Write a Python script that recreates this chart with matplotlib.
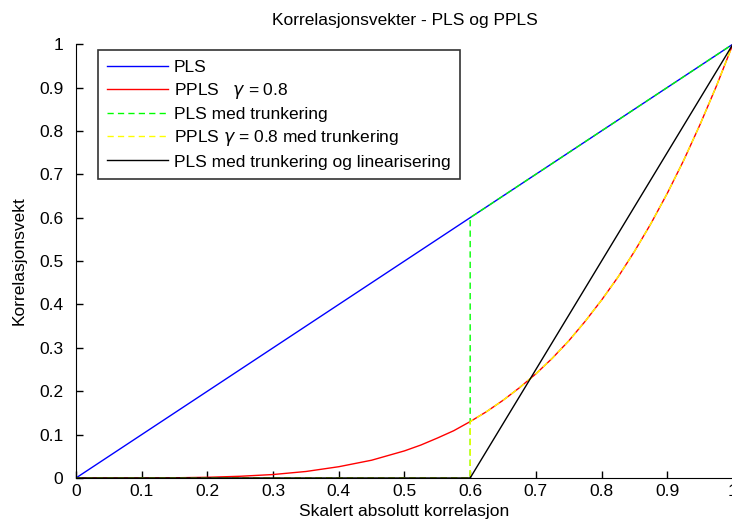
import matplotlib
matplotlib.use("Agg")
import matplotlib.pyplot as plt

plt.rcParams['font.family'] = ['Liberation Sans', 'DejaVu Sans']
plt.rcParams['mathtext.fontset'] = 'dejavusans'

# skalert absolutt korrelasjon (x) og avlest korrelasjonsvekt
x = [0.0, 0.05, 0.1, 0.15, 0.2, 0.25, 0.3, 0.35, 0.4, 0.45, 0.5, 0.525,
     0.55, 0.575, 0.6, 0.625, 0.65, 0.675, 0.7, 0.725, 0.75, 0.775, 0.8,
     0.825, 0.85, 0.875, 0.9, 0.925, 0.95, 0.975, 1.0]
pls = x
ppls = [0.0, 0.0, 0.0001, 0.0005, 0.0016, 0.004, 0.008, 0.015, 0.026, 0.041, 0.0625, 0.076,
        0.092, 0.109, 0.13, 0.153, 0.179, 0.208, 0.24, 0.276, 0.316, 0.361, 0.41,
        0.463, 0.522, 0.586, 0.656, 0.732, 0.815, 0.904, 1.0]

# trunkert ved 0.6
x_trunc = [0.0, 0.6] + x[14:]
pls_trunc = [0.0, 0.0] + pls[14:]
ppls_trunc = [0.0, 0.0] + ppls[14:]

x_lin = [0.0, 0.6, 1.0]
pls_lin = [0.0, 0.0, 1.0]

ticks = [0.0, 0.1, 0.2, 0.3, 0.4, 0.5, 0.6, 0.7, 0.8, 0.9, 1.0]
tick_labels = ['0', '0.1', '0.2', '0.3', '0.4', '0.5', '0.6', '0.7', '0.8', '0.9', '1']

fig = plt.figure(figsize=(7.32, 5.19), dpi=100)
ax = fig.add_axes([0.1038, 0.079, 0.8975, 0.836])

ax.plot(x, pls, color='#0000ff', lw=1.0, label='PLS')
ax.plot(x, ppls, color='#ff0000', lw=1.0, label='PPLS   $\\gamma$ = 0.8')
ax.plot(x_trunc, pls_trunc, color='#00ff00', lw=1.0, dashes=(4.5, 3),
        label='PLS med trunkering')
ax.plot(x_trunc, ppls_trunc, color='#ffff00', lw=1.0, dashes=(4.5, 3),
        label='PPLS $\\gamma$ = 0.8 med trunkering')
ax.plot(x_lin, pls_lin, color='black', lw=1.0,
        label='PLS med trunkering og linearisering')

ax.set_xlim(0, 1)
ax.set_ylim(0, 1)
ax.set_xticks(ticks)
ax.set_yticks(ticks)
ax.set_xticklabels(tick_labels)
ax.set_yticklabels(tick_labels)
ax.tick_params(direction='in', length=5, width=1, labelsize=12.5)
ax.tick_params(axis='y', pad=9)
ax.tick_params(axis='x', pad=4)
ax.spines['top'].set_visible(False)
ax.spines['right'].set_visible(False)

ax.set_title('Korrelasjonsvekter - PLS og PPLS', fontsize=12.5, pad=14)
ax.set_xlabel('Skalert absolutt korrelasjon', fontsize=12.5, labelpad=4)
ax.set_ylabel('Korrelasjonsvekt', fontsize=12.5, labelpad=9)

leg = ax.legend(loc='upper left', bbox_to_anchor=(0.033, 0.986), borderaxespad=0,
                fontsize=12.5, frameon=True, fancybox=False, edgecolor='black',
                handlelength=3.5, labelspacing=0.35, borderpad=0.55,
                handletextpad=0.35)
leg.get_frame().set_linewidth(1.2)

fig.savefig('out.png', dpi=100)
